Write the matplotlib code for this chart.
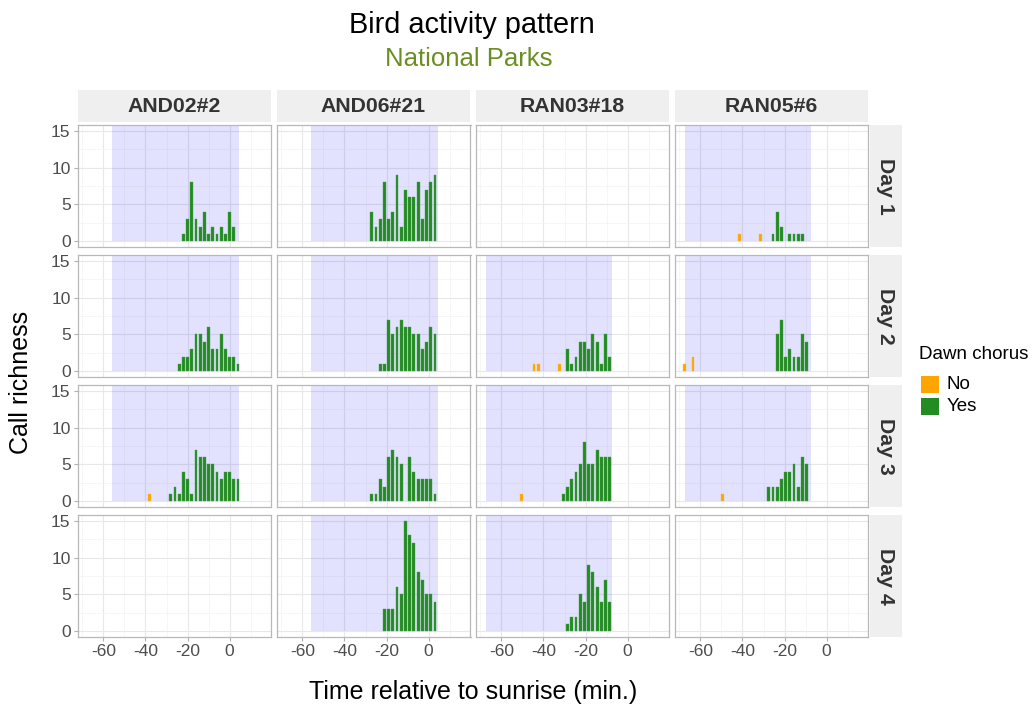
import matplotlib
matplotlib.use("Agg")
import matplotlib.pyplot as plt
from matplotlib.patches import Rectangle

plt.rcParams['font.family'] = ['Liberation Sans', 'DejaVu Sans']
plt.rcParams['axes.unicode_minus'] = False

W, H = 1035, 708

sites = ["AND02#2", "AND06#21", "RAN03#18", "RAN05#6"]
days = ["Day 1", "Day 2", "Day 3", "Day 4"]
legend_labels = ["No", "Yes"]

# dawn window (shaded) per site, minutes relative to sunrise
dawn_start = [-56, -56, -67.5, -67.5]
dawn_end = [4.5, 4.5, -7.5, -7.5]

# --- AND02#2 ---
and02_d1_time = [-22, -20, -18, -16, -14, -12, -10, -8, -6, -4, -2, 0, 2]
and02_d1_calls = [1, 3, 8, 3, 2, 4, 1, 2, 1, 2, 1, 4, 2]
and02_d2_time = [-24, -22, -20, -18, -16, -14, -12, -10, -8, -6, -4, -2, 0, 2, 4]
and02_d2_calls = [1, 2, 2, 3, 5, 5, 4, 6, 3, 3, 5, 3, 2, 2, 1]
and02_d3_no_time = [-38]
and02_d3_no_calls = [1]
and02_d3_time = [-28, -26, -24, -22, -20, -18, -16, -14, -12, -10, -8, -6, -4, -2, 0, 2, 4]
and02_d3_calls = [1, 2, 1, 4, 3, 1, 7, 6, 6, 5, 5, 4, 3, 4, 4, 3, 3]

# --- AND06#21 ---
and06_d1_time = [-27, -25, -23, -21, -19, -17, -15, -13, -11, -9, -7, -5, -3, -1, 1, 3]
and06_d1_calls = [4, 2, 3, 8, 3, 4, 9, 2, 7, 6, 6, 8, 3, 7, 8, 9]
and06_d2_time = [-23, -21, -19, -17, -15, -13, -11, -9, -7, -5, -3, -1, 1, 3]
and06_d2_calls = [1, 1, 7, 5, 6, 7, 6, 6, 5, 5, 3, 4, 6, 5]
and06_d3_time = [-27, -25, -23, -21, -19, -17, -15, -13, -9, -7, -5, -3, -1, 1, 3]
and06_d3_calls = [1, 1, 3, 2, 6, 7, 6, 5, 6, 4, 3, 3, 3, 3, 1]
and06_d4_time = [-21, -19, -17, -15, -13, -11, -9, -7, -5, -3, -1, 1, 3]
and06_d4_calls = [3, 3, 3, 6, 5, 15, 13, 12, 8, 7, 5, 5, 4]

# --- RAN03#18 ---
ran03_d2_no_time = [-44.5, -42.5, -32.5]
ran03_d2_no_calls = [1, 1, 1]
ran03_d2_time = [-28.5, -26.5, -24.5, -22.5, -20.5, -18.5, -16.5, -14.5, -12.5, -10.5, -8.5]
ran03_d2_calls = [3, 1, 2, 4, 4, 3, 5, 4, 1, 5, 2]
ran03_d3_no_time = [-50.5]
ran03_d3_no_calls = [1]
ran03_d3_time = [-30.5, -28.5, -26.5, -24.5, -22.5, -20.5, -18.5, -16.5, -14.5, -12.5, -10.5, -8.5]
ran03_d3_calls = [1, 2, 3, 4, 5, 8, 5, 5, 7, 6, 6, 6]
ran03_d4_time = [-28.5, -26.5, -24.5, -22.5, -20.5, -18.5, -16.5, -14.5, -12.5, -10.5, -8.5]
ran03_d4_calls = [1, 2, 2, 5, 4, 9, 8, 6, 4, 7, 4]

# --- RAN05#6 ---
ran05_d1_no_time = [-41.5, -31.5]
ran05_d1_no_calls = [1, 1]
ran05_d1_time = [-25.5, -23.5, -21.5, -17.5, -15.5, -13.5, -11.5]
ran05_d1_calls = [1, 4, 2, 1, 1, 1, 1]
ran05_d2_no_time = [-67.5, -63.5]
ran05_d2_no_calls = [1, 2]
ran05_d2_time = [-23.5, -21.5, -19.5, -17.5, -15.5, -13.5, -11.5, -9.5]
ran05_d2_calls = [5, 7, 2, 3, 2, 2, 5, 4]
ran05_d3_no_time = [-49.5]
ran05_d3_no_calls = [1]
ran05_d3_time = [-27.5, -25.5, -23.5, -21.5, -19.5, -17.5, -15.5, -13.5, -11.5, -9.5]
ran05_d3_calls = [2, 2, 2, 3, 4, 4, 5, 2, 6, 5]

# (col, row) -> (yes time, yes calls, no time, no calls)
panels = {
    (0, 0): (and02_d1_time, and02_d1_calls, [], []),
    (0, 1): (and02_d2_time, and02_d2_calls, [], []),
    (0, 2): (and02_d3_time, and02_d3_calls, and02_d3_no_time, and02_d3_no_calls),
    (1, 0): (and06_d1_time, and06_d1_calls, [], []),
    (1, 1): (and06_d2_time, and06_d2_calls, [], []),
    (1, 2): (and06_d3_time, and06_d3_calls, [], []),
    (1, 3): (and06_d4_time, and06_d4_calls, [], []),
    (2, 1): (ran03_d2_time, ran03_d2_calls, ran03_d2_no_time, ran03_d2_no_calls),
    (2, 2): (ran03_d3_time, ran03_d3_calls, ran03_d3_no_time, ran03_d3_no_calls),
    (2, 3): (ran03_d4_time, ran03_d4_calls, [], []),
    (3, 0): (ran05_d1_time, ran05_d1_calls, ran05_d1_no_time, ran05_d1_no_calls),
    (3, 1): (ran05_d2_time, ran05_d2_calls, ran05_d2_no_time, ran05_d2_no_calls),
    (3, 2): (ran05_d3_time, ran05_d3_calls, ran05_d3_no_time, ran05_d3_no_calls),
}

col_yes = "#228B22"
col_no = "#FFA500"
strip_bg = "#EFEFEF"
border = "#B8B8B8"


def box(x0, y0, w, h):
    # pixel box (top-left origin) -> figure fraction rect
    return [x0 / W, 1 - (y0 + h) / H, w / W, h / H]


fig = plt.figure(figsize=(W / 100, H / 100), dpi=100)

lefts = [77.5, 276.5, 475.5, 674.5]
tops = [125, 255, 385, 515]
pw, ph = 194, 122

for c in range(4):
    for r in range(4):
        ax = fig.add_axes(box(lefts[c], tops[r], pw, ph))
        ax.set_xlim(-72.3, 19.9)
        ax.set_ylim(-0.75, 15.75)
        ax.set_xticks([-60, -40, -20, 0])
        ax.set_xticks([-70, -50, -30, -10, 10], minor=True)
        ax.set_yticks([0, 5, 10, 15])
        ax.set_yticks([2.5, 7.5, 12.5], minor=True)
        ax.grid(which='major', color='#E8E8E8', lw=0.8)
        ax.grid(which='minor', color='#F3F3F3', lw=0.5)
        ax.set_axisbelow(True)
        for s in ax.spines.values():
            s.set_color(border)
            s.set_linewidth(0.9)
        ax.tick_params(which='minor', length=0)
        ax.tick_params(which='major', length=3, color='#B0B0B0', labelsize=12.5,
                       labelcolor='#4D4D4D', pad=2)
        if c != 0:
            ax.tick_params(axis='y', length=0, labelleft=False)
        if r != 3:
            ax.tick_params(axis='x', length=0, labelbottom=False)

        if (c, r) in panels:
            t_yes, n_yes, t_no, n_no = panels[(c, r)]
            ax.axvspan(dawn_start[c], dawn_end[c], ymin=0.75 / 16.5, ymax=1,
                       color='blue', alpha=0.115, lw=0, zorder=1.5)
            ax.bar(t_yes, n_yes, width=1.35, color=col_yes, zorder=2,
                   edgecolor='#4f9f4f', linewidth=0.3)
            if t_no:
                ax.bar(t_no, n_no, width=1.35, color=col_no, zorder=2,
                       edgecolor='#f5b94a', linewidth=0.3)

# strips on top (sites)
for c in range(4):
    sax = fig.add_axes(box(lefts[c], 90, pw, 32))
    sax.set_facecolor(strip_bg)
    sax.set_xticks([])
    sax.set_yticks([])
    for s in sax.spines.values():
        s.set_visible(False)
    sax.text(0.5, 0.5, sites[c], ha='center', va='center', fontsize=15.3,
             fontweight='bold', color='#333333', transform=sax.transAxes)

# strips on the right (days)
for r in range(4):
    sax = fig.add_axes(box(869.5, tops[r], 32, ph))
    sax.set_facecolor(strip_bg)
    sax.set_xticks([])
    sax.set_yticks([])
    for s in sax.spines.values():
        s.set_visible(False)
    sax.text(0.5, 0.5, days[r], ha='center', va='center', fontsize=15.3,
             fontweight='bold', color='#333333', rotation=-90,
             transform=sax.transAxes)

fig.text(472 / W, 1 - 25 / H, "Bird activity pattern", ha='center', va='center',
         fontsize=20.8, color='black')
fig.text(469 / W, 1 - 59 / H, "National Parks", ha='center', va='center',
         fontsize=18.5, color='#6B8E23')
fig.text(473 / W, 1 - 692 / H, "Time relative to sunrise (min.)", ha='center',
         va='center', fontsize=18)
fig.text(21 / W, 1 - 382 / H, "Call richness", ha='center', va='center',
         fontsize=18, rotation=90)

# legend, drawn by hand
fig.text(919 / W, 1 - 355 / H, "Dawn chorus", ha='left', va='center',
         fontsize=13.5)
key_cols = [col_no, col_yes]
key_tops = [376, 398]
for lab, kc, ky in zip(legend_labels, key_cols, key_tops):
    fig.add_artist(Rectangle((921 / W, 1 - (ky + 17) / H), 18 / W, 17 / H,
                             facecolor=kc, edgecolor='none',
                             transform=fig.transFigure))
    fig.text(947 / W, 1 - (ky + 9) / H, lab, ha='left', va='center',
             fontsize=13.5)

fig.savefig("out.png", dpi=100)
